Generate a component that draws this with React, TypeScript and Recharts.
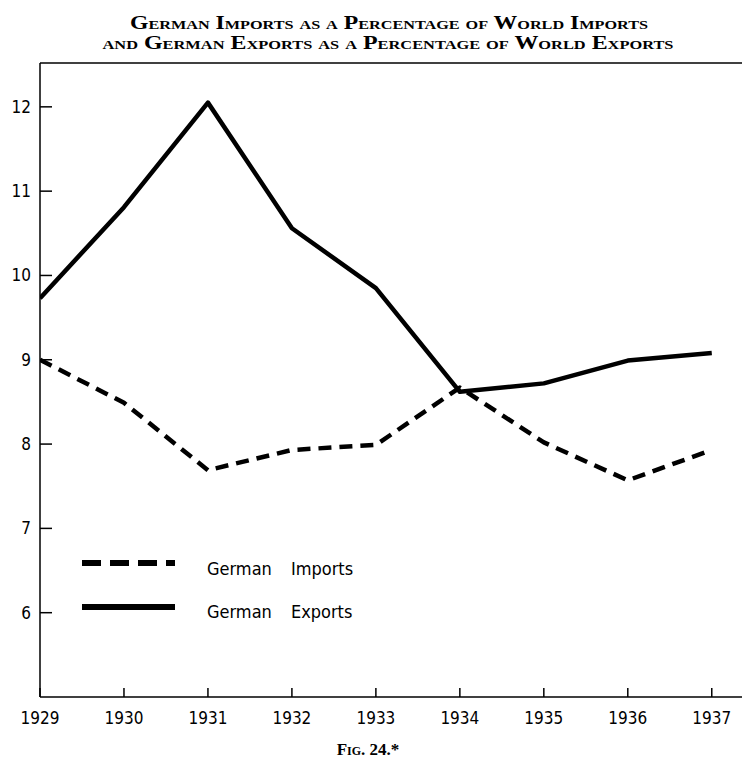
import React from 'react';
import { LineChart, Line, XAxis, YAxis, ReferenceLine } from 'recharts';

const years = [1929, 1930, 1931, 1932, 1933, 1934, 1935, 1936, 1937];
const exportsPct = [9.73, 10.81, 12.05, 10.56, 9.85, 8.62, 8.72, 8.99, 9.08];
const importsPct = [9.0, 8.49, 7.69, 7.93, 7.99, 8.67, 8.02, 7.57, 7.93];
const yTicks = [6, 7, 8, 9, 10, 11, 12];
const seriesNames = ['German Imports', 'German Exports'];
const titleLines = [
  'German Imports as a Percentage of World Imports',
  'and German Exports as a Percentage of World Exports',
];
const caption = 'Fig. 24.*';

const data = years.map((year, i) => ({
  year,
  imports: importsPct[i],
  exports: exportsPct[i],
}));

const Y_MIN = 5;
const Y_MAX = 12.52;
const X_MAX = 1937.36;

const handFont = '"DejaVu Sans Condensed", "Liberation Sans Narrow", "DejaVu Sans", sans-serif';
const serifFont = '"Liberation Serif", "DejaVu Serif", serif';

const YTick = ({ x, y, payload }: any) => (
  <g>
    <line x1={x} x2={x + 12} y1={y} y2={y} stroke="#000" strokeWidth={1.5} />
    <text
      x={x - 9}
      y={y + 6}
      textAnchor="end"
      fontFamily={handFont}
      fontStretch="condensed"
      fontSize={17}
      fill="#000"
    >
      {payload.value}
    </text>
  </g>
);

const XTick = ({ x, y, payload }: any) => (
  <g>
    <line x1={x} x2={x} y1={y} y2={y - 9} stroke="#000" strokeWidth={1.5} />
    <text
      x={x}
      y={y + 27}
      textAnchor="middle"
      fontFamily={handFont}
      fontStretch="condensed"
      fontSize={17}
      fill="#000"
    >
      {payload.value}
    </text>
  </g>
);

export default function App() {
  return (
    <div style={{ position: 'absolute', left: 0, top: 0, width: 742, height: 758, background: '#fff' }}>
      <LineChart
        width={742}
        height={758}
        data={data}
        margin={{ top: 63, right: 0, bottom: 0, left: 0 }}
      >
        <XAxis
          dataKey="year"
          type="number"
          domain={[1929, X_MAX]}
          ticks={years}
          height={61}
          tickSize={0}
          tickMargin={0}
          tickLine={false}
          tick={<XTick />}
          axisLine={{ stroke: '#000', strokeWidth: 1.5 }}
          allowDataOverflow
        />
        <YAxis
          type="number"
          domain={[Y_MIN, Y_MAX]}
          ticks={yTicks}
          width={40}
          tickSize={0}
          tickMargin={0}
          tickLine={false}
          tick={<YTick />}
          axisLine={{ stroke: '#000', strokeWidth: 1.5 }}
          allowDataOverflow
        />
        <ReferenceLine y={Y_MAX} stroke="#000" strokeWidth={1.5} />
        <Line
          type="linear"
          dataKey="exports"
          stroke="#000"
          strokeWidth={4.5}
          strokeLinejoin="round"
          dot={false}
          isAnimationActive={false}
        />
        <Line
          type="linear"
          dataKey="imports"
          stroke="#000"
          strokeWidth={4.5}
          strokeDasharray="13 8"
          strokeLinejoin="round"
          dot={false}
          isAnimationActive={false}
        />
      </LineChart>

      <svg width={742} height={758} style={{ position: 'absolute', left: 0, top: 0, pointerEvents: 'none' }}>
        <text
          x={389}
          y={29}
          textAnchor="middle"
          fontFamily={serifFont}
          fontWeight="bold"
          fontSize={19}
          style={{ fontVariant: 'small-caps' }}
          textLength={518}
          lengthAdjust="spacingAndGlyphs"
        >
          {titleLines[0]}
        </text>
        <text
          x={388}
          y={49}
          textAnchor="middle"
          fontFamily={serifFont}
          fontWeight="bold"
          fontSize={19}
          style={{ fontVariant: 'small-caps' }}
          textLength={571}
          lengthAdjust="spacingAndGlyphs"
        >
          {titleLines[1]}
        </text>

        {/* legend */}
        <line x1={82} x2={175} y1={563} y2={563} stroke="#000" strokeWidth={6} strokeDasharray="19 9" />
        <line x1={82} x2={175} y1={607} y2={607} stroke="#000" strokeWidth={6} />
        <text x={207} y={575} fontFamily={handFont} fontSize={18} fill="#000" style={{ wordSpacing: 14 }}>
          {seriesNames[0]}
        </text>
        <text x={207} y={618} fontFamily={handFont} fontSize={18} fill="#000" style={{ wordSpacing: 14 }}>
          {seriesNames[1]}
        </text>

        <text
          x={368}
          y={755}
          textAnchor="middle"
          fontFamily={serifFont}
          fontWeight="bold"
          fontSize={17}
          style={{ fontVariant: 'small-caps' }}
        >
          {caption}
        </text>
      </svg>
    </div>
  );
}
